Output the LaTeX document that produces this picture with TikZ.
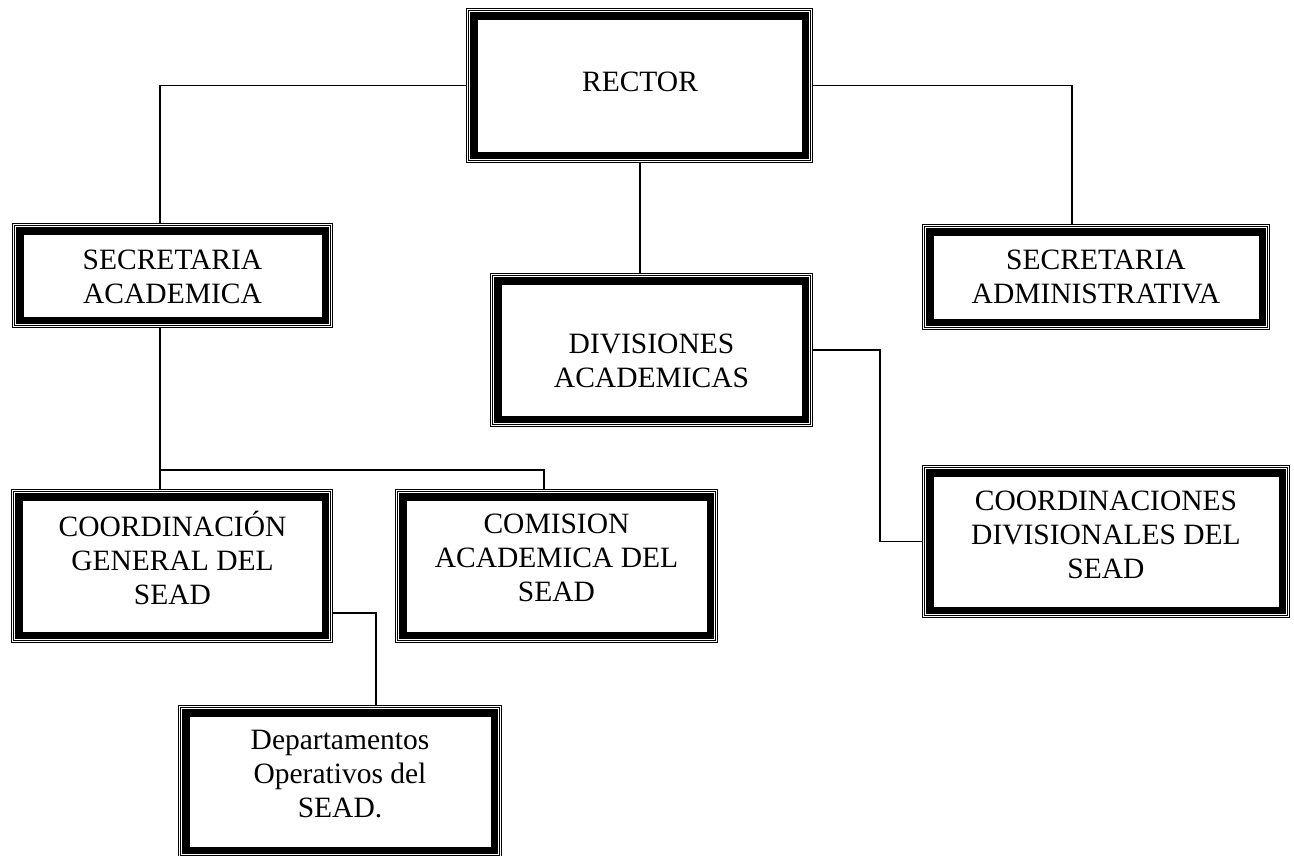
\documentclass[tikz,border=0pt]{standalone}
\usepackage{fontspec}
\setmainfont{Liberation Serif}
\newcommand{\mystrut}{\rule[-8pt]{0pt}{26pt}}
\tikzset{
  orgbox/.style={draw=none, inner sep=0pt, outer sep=0pt},
  orgtext/.style={inner sep=0pt, outer sep=0pt, align=center, font=\fontsize{29.5}{34}\selectfont},
  conn/.style={line width=1.5pt, line cap=rect}
}
\begin{document}
\begin{tikzpicture}[x=1pt, y=-1pt]
\useasboundingbox (0,0) rectangle (1294,855);
\clip (0,0) rectangle (1294,855);
\fill[white] (0,0) rectangle (1294,855);

% boxes
\node[orgbox, minimum width=347pt, minimum height=155pt] (rector) at (639.5,85.5) {};
\node[orgbox, minimum width=321pt, minimum height=105pt] (secacad) at (172.5,275.5) {};
\node[orgbox, minimum width=348pt, minimum height=106pt] (secadm) at (1096,277) {};
\node[orgbox, minimum width=323pt, minimum height=154pt] (div) at (651.5,350) {};
\node[orgbox, minimum width=322pt, minimum height=154pt] (cgen) at (172,566) {};
\node[orgbox, minimum width=323pt, minimum height=154pt] (comis) at (556.5,566) {};
\node[orgbox, minimum width=368pt, minimum height=153pt] (ccoord) at (1106,541.5) {};
\node[orgbox, minimum width=324pt, minimum height=153pt] (depto) at (340,781.5) {};

\foreach \n in {rector,secacad,secadm,div,cgen,comis,ccoord,depto}{
  \draw[line width=1pt] ([xshift=0.5pt,yshift=-0.5pt]\n.north west) rectangle ([xshift=-0.5pt,yshift=0.5pt]\n.south east);
  \draw[line width=1pt] ([xshift=2.5pt,yshift=-2.5pt]\n.north west) rectangle ([xshift=-2.5pt,yshift=2.5pt]\n.south east);
  \draw[line width=7.5pt] ([xshift=7.75pt,yshift=-7.75pt]\n.north west) rectangle ([xshift=-7.75pt,yshift=7.75pt]\n.south east);
}

% texts
\node[orgtext] (trector) at (640,85.3) {\mystrut RECTOR};
\node[orgtext] (tsecacad) at (172.5,281) {\mystrut SECRETARIA\\ ACADEMICA\mystrut};
\node[orgtext] (tsecadm) at (1096,281) {\mystrut SECRETARIA\\ ADMINISTRATIVA\mystrut};
\node[orgtext] (tdiv) at (651.5,365) {\mystrut DIVISIONES\\ ACADEMICAS\mystrut};
\node[orgtext] (tcgen) at (172.5,562) {\mystrut COORDINACIÓN\\ GENERAL DEL\\ SEAD\mystrut};
\node[orgtext] (tcomis) at (556.5,562) {\mystrut COMISION\\ ACADEMICA DEL\\ SEAD\mystrut};
\node[orgtext] (tccoord) at (1106,539) {\mystrut COORDINACIONES\\ DIVISIONALES DEL\\ SEAD\mystrut};
\node[orgtext] (tdepto) at (340,778) {\mystrut Departamentos\\ Operativos del\\ SEAD.\mystrut};

% connectors
\coordinate (jl) at (160,85.5);
\coordinate (jr) at (1072,85.5);
\coordinate (jb) at (160,470);
\coordinate (jc) at (544,470);
\coordinate (jd) at (880,350);
\coordinate (je) at (376,613);

\draw[conn] (rector.west) -- (jl) -- (jl |- secacad.north);
\draw[conn] (rector.east) -- (jr) -- (jr |- secadm.north);
\draw[conn] ([xshift=0.5pt]rector.south) -- ([xshift=0.5pt]rector.south |- div.north);
\draw[conn] (div.east) -- (jd) |- (ccoord.west);
\draw[conn] (jl |- secacad.south) -- (jl |- cgen.north);
\draw[conn] (jb) -- (jc) -- (jc |- comis.north);
\draw[conn] (cgen.east |- je) -- (je) -- (je |- depto.north);
\end{tikzpicture}
\end{document}
